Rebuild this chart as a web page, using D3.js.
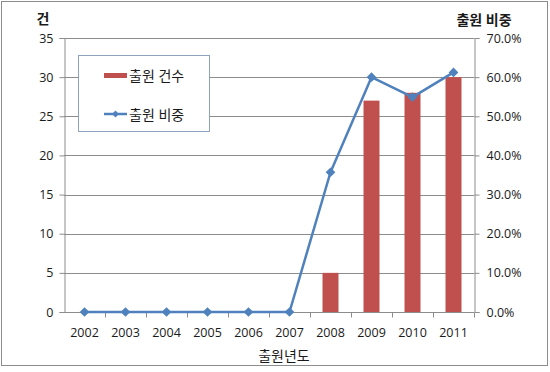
<!DOCTYPE html>
<html>
<head>
<meta charset="utf-8">
<script src="https://cdn.jsdelivr.net/npm/d3@7"></script>
<style>
  body { margin: 0; background: #fff; }
  text { font-family: "Open Sans", "Noto Sans CJK KR", sans-serif; fill: #1a1a1a; }
</style>
</head>
<body>
<div id="chart"></div>
<script>
const years = ["2002", "2003", "2004", "2005", "2006", "2007", "2008", "2009", "2010", "2011"];
const counts = [0, 0, 0, 0, 0, 0, 5, 27, 28, 30];
const shares = [0, 0, 0, 0, 0, 0, 0.357, 0.6, 0.549, 0.612];
const countTicks = [0, 5, 10, 15, 20, 25, 30, 35];
const shareTicks = [0, 0.1, 0.2, 0.3, 0.4, 0.5, 0.6, 0.7];

const margin = { top: 38, right: 76, bottom: 60, left: 64 };
const W = 550, H = 372;
const width = W - margin.left - margin.right;
const height = H - margin.top - margin.bottom;

const root = d3.select("#chart").append("svg").attr("width", W).attr("height", H);

// outer frame
root.append("rect")
  .attr("x", 1.5).attr("y", 1.5).attr("width", 546).attr("height", 364)
  .attr("fill", "#fff").attr("stroke", "#8c8c8c");

const svg = root.append("g").attr("transform", `translate(${margin.left},${margin.top})`);

const x = d3.scaleBand().domain(years).range([0, width]);
const yL = d3.scaleLinear().domain([0, 35]).range([height, 0]);
const yR = d3.scaleLinear().domain([0, 0.7]).range([height, 0]);

// gridlines
svg.append("g")
  .selectAll("line")
  .data(countTicks.filter(d => d > 0))
  .enter().append("line")
  .attr("x1", 0).attr("x2", width)
  .attr("y1", d => Math.round(yL(d)) + 0.5).attr("y2", d => Math.round(yL(d)) + 0.5)
  .attr("stroke", "#8c8c8c");

// left axis
const gL = svg.append("g")
  .attr("transform", "translate(0.5,0)")
  .call(d3.axisLeft(yL).tickValues(countTicks).tickSize(5).tickPadding(6));
gL.selectAll("text").attr("font-size", "12.5px").attr("fill", "#1a1a1a").attr("font-family", null);
gL.selectAll("line, path").attr("stroke", "#8c8c8c");

// right axis
const gR = svg.append("g")
  .attr("transform", `translate(${width + 0.5},0)`)
  .call(d3.axisRight(yR).tickValues(shareTicks).tickSize(5).tickPadding(7).tickFormat(d3.format(".1%")));
gR.selectAll("text").attr("font-size", "12.5px").attr("fill", "#1a1a1a");
gR.selectAll("line, path").attr("stroke", "#8c8c8c");
gL.attr("font-family", null);
gR.attr("font-family", null);

// bars
const barW = x.bandwidth() * 0.39;
svg.selectAll(".bar")
  .data(counts)
  .enter().append("rect")
  .attr("class", "bar")
  .attr("x", (d, i) => x(years[i]) + (x.bandwidth() - barW) / 2)
  .attr("y", d => yL(d))
  .attr("width", barW)
  .attr("height", d => height - yL(d))
  .attr("fill", "#c0504d");

// bottom axis, ticks between categories
const gB = svg.append("g").attr("transform", `translate(0,${Math.round(height) + 0.5})`);
gB.append("line").attr("x1", 0).attr("x2", width).attr("stroke", "#8c8c8c");
gB.selectAll(".tk")
  .data(years.slice(1).concat(["end"]))
  .enter().append("line")
  .attr("x1", (d, i) => Math.round(x.step() * (i + 1)) + 0.5)
  .attr("x2", (d, i) => Math.round(x.step() * (i + 1)) + 0.5)
  .attr("y1", 0).attr("y2", 5)
  .attr("stroke", "#8c8c8c");
gB.selectAll(".lbl")
  .data(years)
  .enter().append("text")
  .attr("x", d => x(d) + x.bandwidth() / 2)
  .attr("y", 24)
  .attr("text-anchor", "middle")
  .attr("font-size", "12.5px")
  .text(d => d);

// share line
const line = d3.line()
  .x((d, i) => x(years[i]) + x.bandwidth() / 2)
  .y(d => yR(d));
svg.append("path")
  .datum(shares)
  .attr("d", line)
  .attr("fill", "none")
  .attr("stroke", "#4f81bd")
  .attr("stroke-width", 2.5)
  .attr("stroke-linejoin", "round");
svg.selectAll(".pt")
  .data(shares)
  .enter().append("path")
  .attr("d", d3.symbol(d3.symbolDiamond2, 60))
  .attr("transform", (d, i) => `translate(${x(years[i]) + x.bandwidth() / 2},${yR(d)})`)
  .attr("fill", "#4f81bd");

// axis titles
root.append("text").attr("x", 43).attr("y", 24).attr("text-anchor", "middle")
  .attr("font-size", "14px").attr("font-weight", "bold").text("건");
root.append("text").attr("x", 484).attr("y", 25).attr("text-anchor", "middle")
  .attr("font-size", "14px").attr("font-weight", "bold").text("출원 비중");
root.append("text").attr("x", 284).attr("y", 361).attr("text-anchor", "middle")
  .attr("font-size", "14px").text("출원년도");

// legend
const lg = root.append("g");
lg.append("rect")
  .attr("x", 78.5).attr("y", 55.5).attr("width", 131).attr("height", 76)
  .attr("fill", "#fff").attr("stroke", "#8ea2bd");
lg.append("rect").attr("x", 104).attr("y", 73).attr("width", 23).attr("height", 5).attr("fill", "#c0504d");
lg.append("text").attr("x", 129).attr("y", 81).attr("font-size", "14px").text("출원 건수");
lg.append("line").attr("x1", 104).attr("x2", 127).attr("y1", 114).attr("y2", 114)
  .attr("stroke", "#4f81bd").attr("stroke-width", 2.5);
lg.append("path").attr("d", d3.symbol(d3.symbolDiamond2, 30))
  .attr("transform", "translate(115.5,114)").attr("fill", "#4f81bd");
lg.append("text").attr("x", 129).attr("y", 120).attr("font-size", "14px").text("출원 비중");
</script>
</body>
</html>
